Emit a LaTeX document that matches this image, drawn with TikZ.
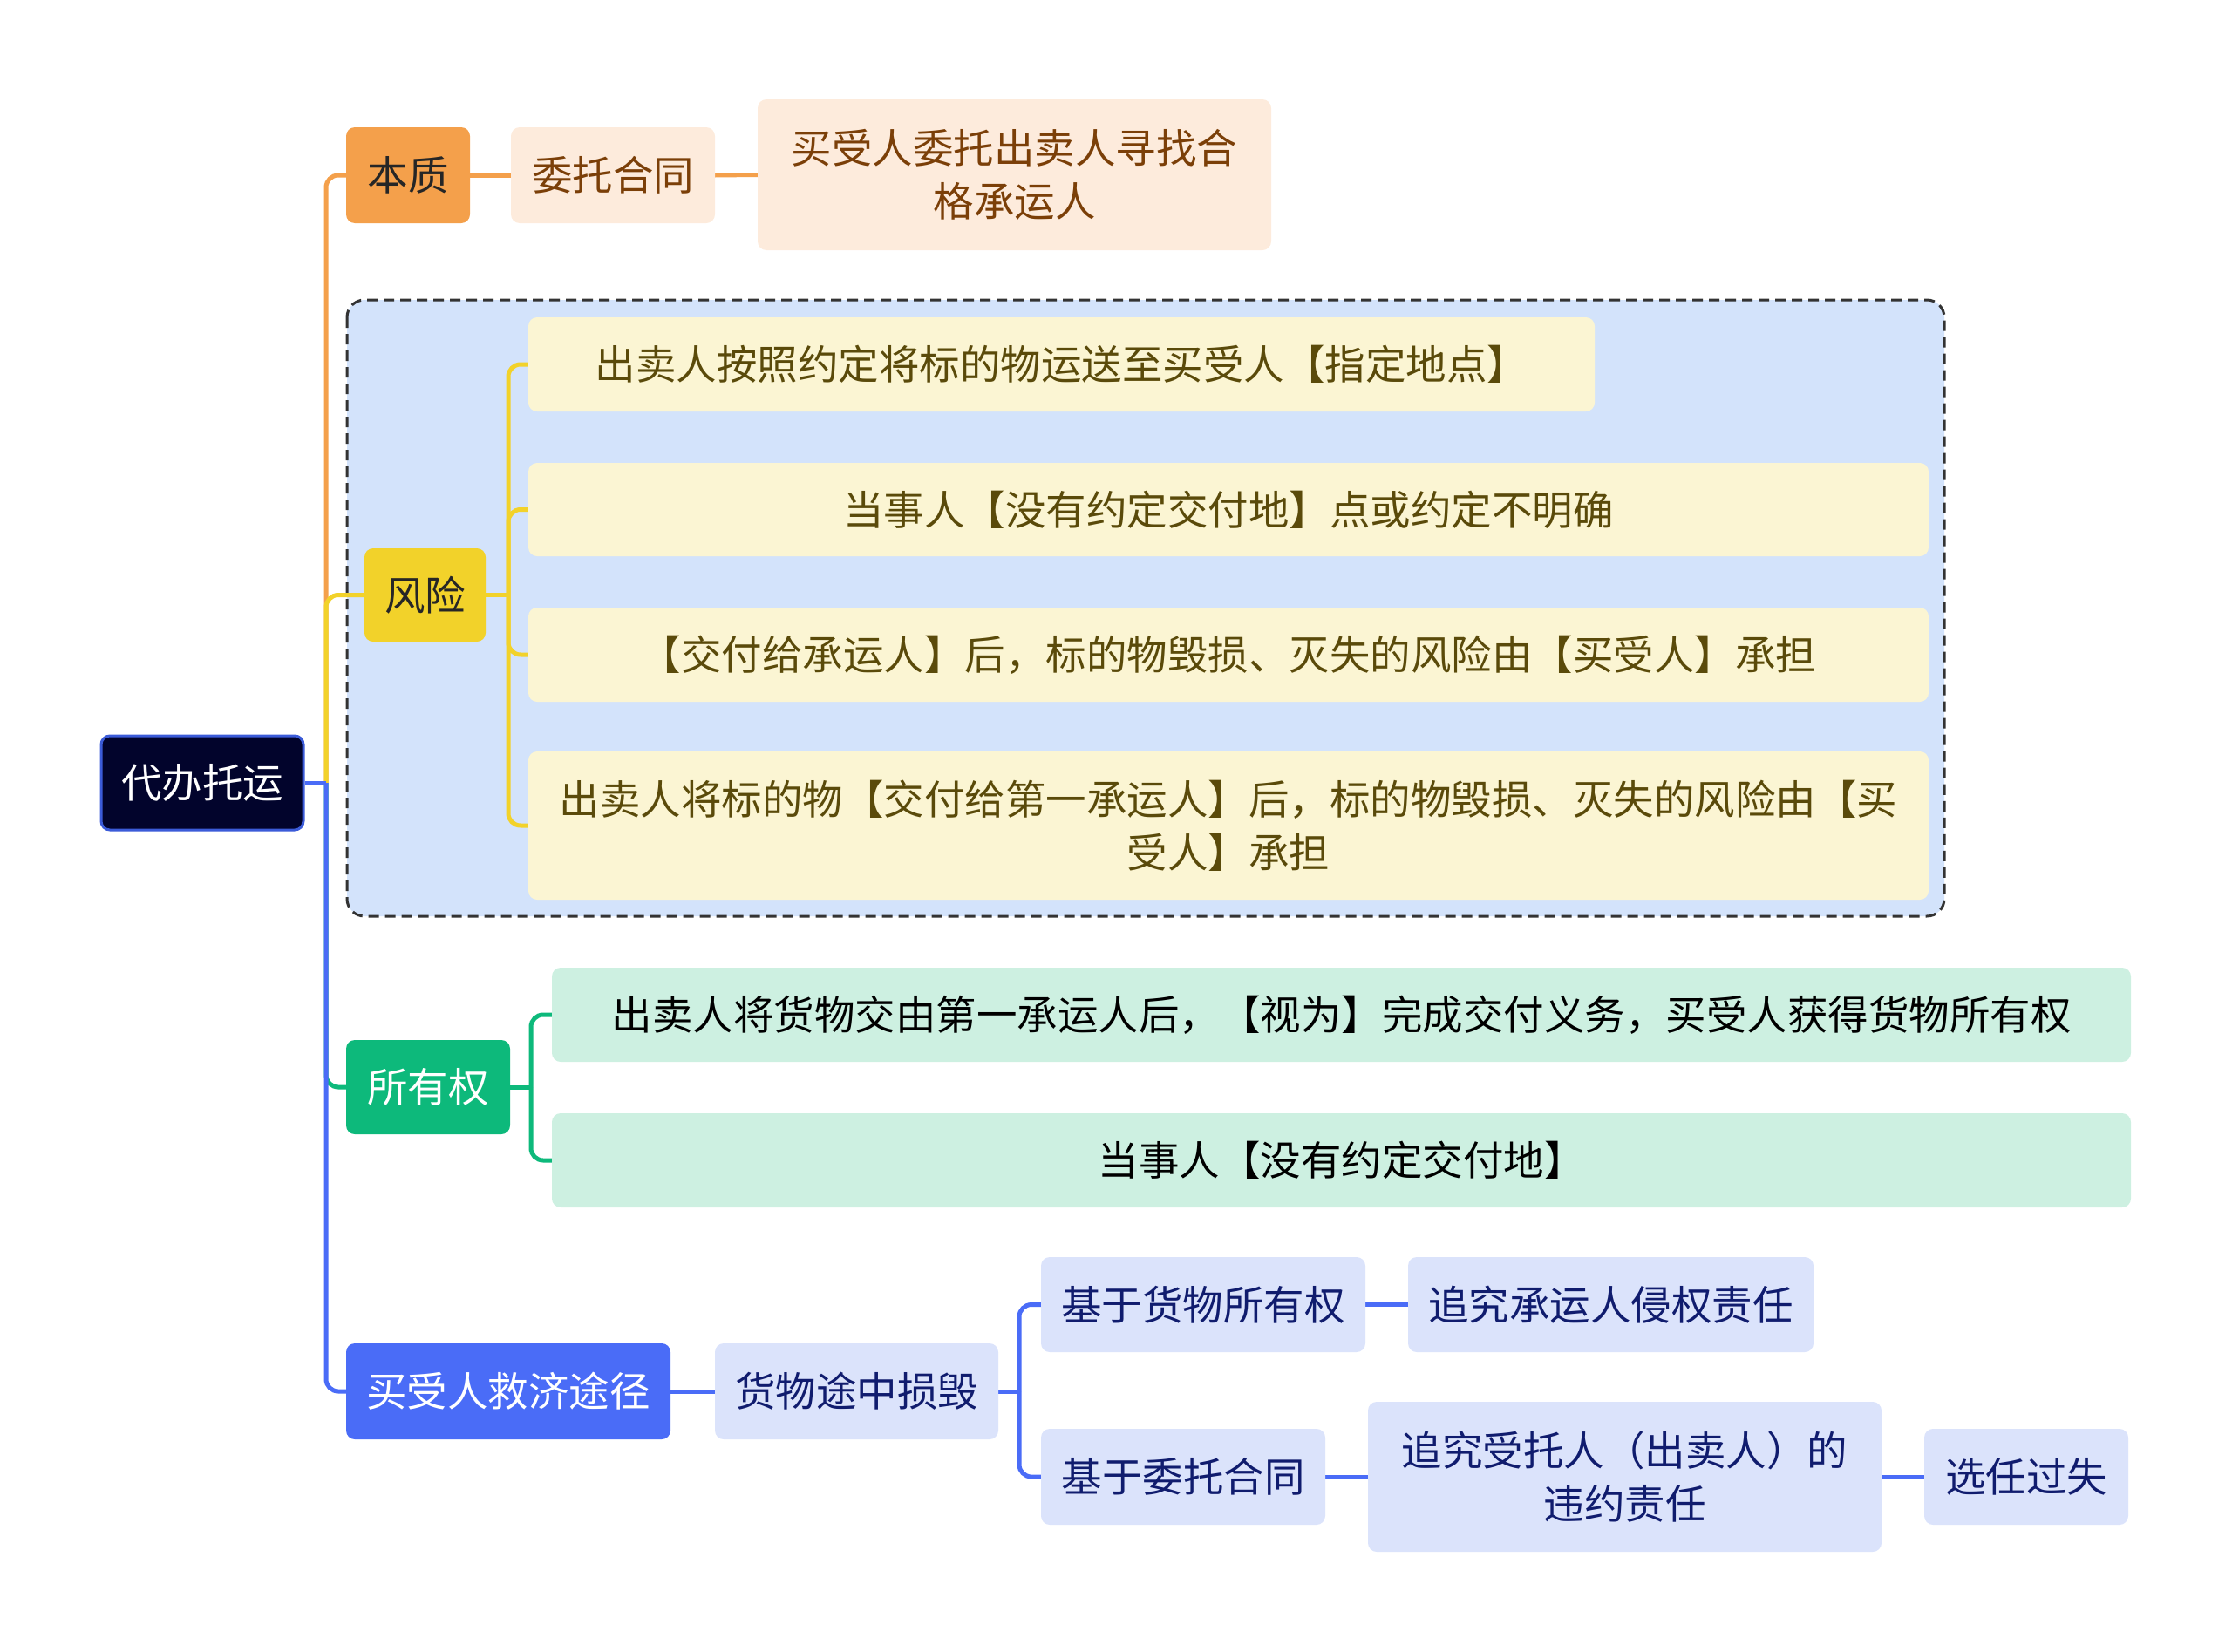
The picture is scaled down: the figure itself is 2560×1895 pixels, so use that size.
\documentclass[tikz,border=0pt]{standalone}
\usepackage{fontspec}
\setmainfont{Noto Sans CJK SC}
\usetikzlibrary{backgrounds}
\definecolor{orangeM}{HTML}{F4A04B}
\definecolor{orangeL}{HTML}{FDEBDC}
\definecolor{orangeT}{HTML}{7B3F08}
\definecolor{blueBg}{HTML}{D3E3FB}
\definecolor{yellowM}{HTML}{F2D22A}
\definecolor{yellowL}{HTML}{FBF5D3}
\definecolor{yellowT}{HTML}{5A4A0A}
\definecolor{greenM}{HTML}{0DB97B}
\definecolor{greenL}{HTML}{CDF0E1}
\definecolor{blueM}{HTML}{4A6CF7}
\definecolor{blueL}{HTML}{DBE3FB}
\definecolor{blueT}{HTML}{101C6E}
\definecolor{rootF}{HTML}{02042C}
\definecolor{rootB}{HTML}{3B5BD8}
\tikzset{
  box/.style={rectangle, rounded corners=10pt, inner sep=0pt, align=center,
    font=\fontsize{46.5pt}{61pt}\selectfont},
  rootbox/.style={box, fill=rootF, draw=rootB, line width=3pt, text=white},
  orgM/.style={box, fill=orangeM, text=black!85},
  orgL/.style={box, fill=orangeL, text=orangeT},
  yelM/.style={box, fill=yellowM, text=black!85},
  yelL/.style={box, fill=yellowL, text=yellowT},
  grnM/.style={box, fill=greenM, text=white},
  grnL/.style={box, fill=greenL, text=black},
  bluM/.style={box, fill=blueM, text=white},
  bluL/.style={box, fill=blueL, text=blueT},
  conn/.style={line width=5pt, rounded corners=14pt},
}
\begin{document}
\begin{tikzpicture}[x=1pt,y=-1pt]
\useasboundingbox (0,0) rectangle (2560,1895);
% nodes
\node[rootbox, minimum width=232pt, minimum height=108pt] (root) at (232,898) {代办托运};
\node[orgM, minimum width=142pt, minimum height=110pt] (bz) at (468,201) {本质};
\node[orgL, minimum width=234pt, minimum height=110pt] (wt) at (703,201) {委托合同};
\node[orgL, minimum width=589pt, minimum height=173pt] (wt1) at (1163.5,200.5) {买受人委托出卖人寻找合\\格承运人};
\node[yelM, minimum width=139pt, minimum height=107pt] (fx) at (487.5,682.5) {风险};
\node[yelL, minimum width=1223pt, minimum height=108pt] (r1) at (1217.5,418) {出卖人按照约定将标的物运送至买受人【指定地点】};
\node[yelL, minimum width=1606pt, minimum height=107pt] (r2) at (1409,584.5) {当事人【没有约定交付地】点或约定不明确};
\node[yelL, minimum width=1606pt, minimum height=108pt] (r3) at (1409,751) {【交付给承运人】后，标的物毁损、灭失的风险由【买受人】承担};
\node[yelL, minimum width=1606pt, minimum height=170pt] (r4) at (1409,947) {出卖人将标的物【交付给第一承运人】后，标的物毁损、灭失的风险由【买\\受人】承担};
\node[grnM, minimum width=188pt, minimum height=108pt] (sy) at (491,1247) {所有权};
\node[grnL, minimum width=1811pt, minimum height=108pt] (o1) at (1538.5,1164) {出卖人将货物交由第一承运人后，【视为】完成交付义务，买受人获得货物所有权};
\node[grnL, minimum width=1811pt, minimum height=108pt] (o2) at (1538.5,1331) {当事人【没有约定交付地】};
\node[bluM, minimum width=372pt, minimum height=110pt] (jj) at (583,1596) {买受人救济途径};
\node[bluL, minimum width=325pt, minimum height=110pt] (hw) at (982.5,1596) {货物途中损毁};
\node[bluL, minimum width=372pt, minimum height=109pt] (j1) at (1380,1496.5) {基于货物所有权};
\node[bluL, minimum width=465pt, minimum height=109pt] (z1) at (1847.5,1496.5) {追究承运人侵权责任};
\node[bluL, minimum width=326pt, minimum height=110pt] (j2) at (1357,1694) {基于委托合同};
\node[bluL, minimum width=589pt, minimum height=172pt] (z2) at (1863.5,1694) {追究受托人（出卖人）的\\违约责任};
\node[bluL, minimum width=234pt, minimum height=110pt] (xr) at (2324,1694) {选任过失};
\coordinate (trunk) at (374,898);
\coordinate (fxb) at (583,682.5);
\coordinate (syb) at (609,1247);
\coordinate (hwb) at (1169,1596);
\begin{pgfonlayer}{background}
\draw[fill=blueBg, draw=black!80, line width=3pt, dash pattern=on 12pt off 7pt, rounded corners=20pt]
  (398,344) rectangle (2230,1051);
% main connectors
\draw[conn, orangeM] (trunk) |- (bz.west);
\draw[conn, yellowM] (trunk) |- (fx.west);
\draw[conn, greenM] (trunk) |- (sy.west);
\draw[conn, blueM] (trunk) |- (jj.west);
\draw[conn, blueM, rounded corners=0pt] (root.east) -- (trunk);
% orange
\draw[conn, orangeM] (bz.east) -- (wt.west);
\draw[conn, orangeM] (wt.east) -- (wt1.west);
% yellow
\draw[conn, yellowM, rounded corners=0pt] (fx.east) -- (fxb);
\draw[conn, yellowM] (fxb) |- (r1.west);
\draw[conn, yellowM] (fxb) |- (r2.west);
\draw[conn, yellowM] (fxb) |- (r3.west);
\draw[conn, yellowM] (fxb) |- (r4.west);
% green
\draw[conn, greenM, rounded corners=0pt] (sy.east) -- (syb);
\draw[conn, greenM] (syb) |- (o1.west);
\draw[conn, greenM] (syb) |- (o2.west);
% blue
\draw[conn, blueM] (jj.east) -- (hw.west);
\draw[conn, blueM, rounded corners=0pt] (hw.east) -- (hwb);
\draw[conn, blueM] (hwb) |- (j1.west);
\draw[conn, blueM] (hwb) |- (j2.west);
\draw[conn, blueM] (j1.east) -- (z1.west);
\draw[conn, blueM] (j2.east) -- (z2.west);
\draw[conn, blueM] (z2.east) -- (xr.west);
\end{pgfonlayer}
\end{tikzpicture}
\end{document}
